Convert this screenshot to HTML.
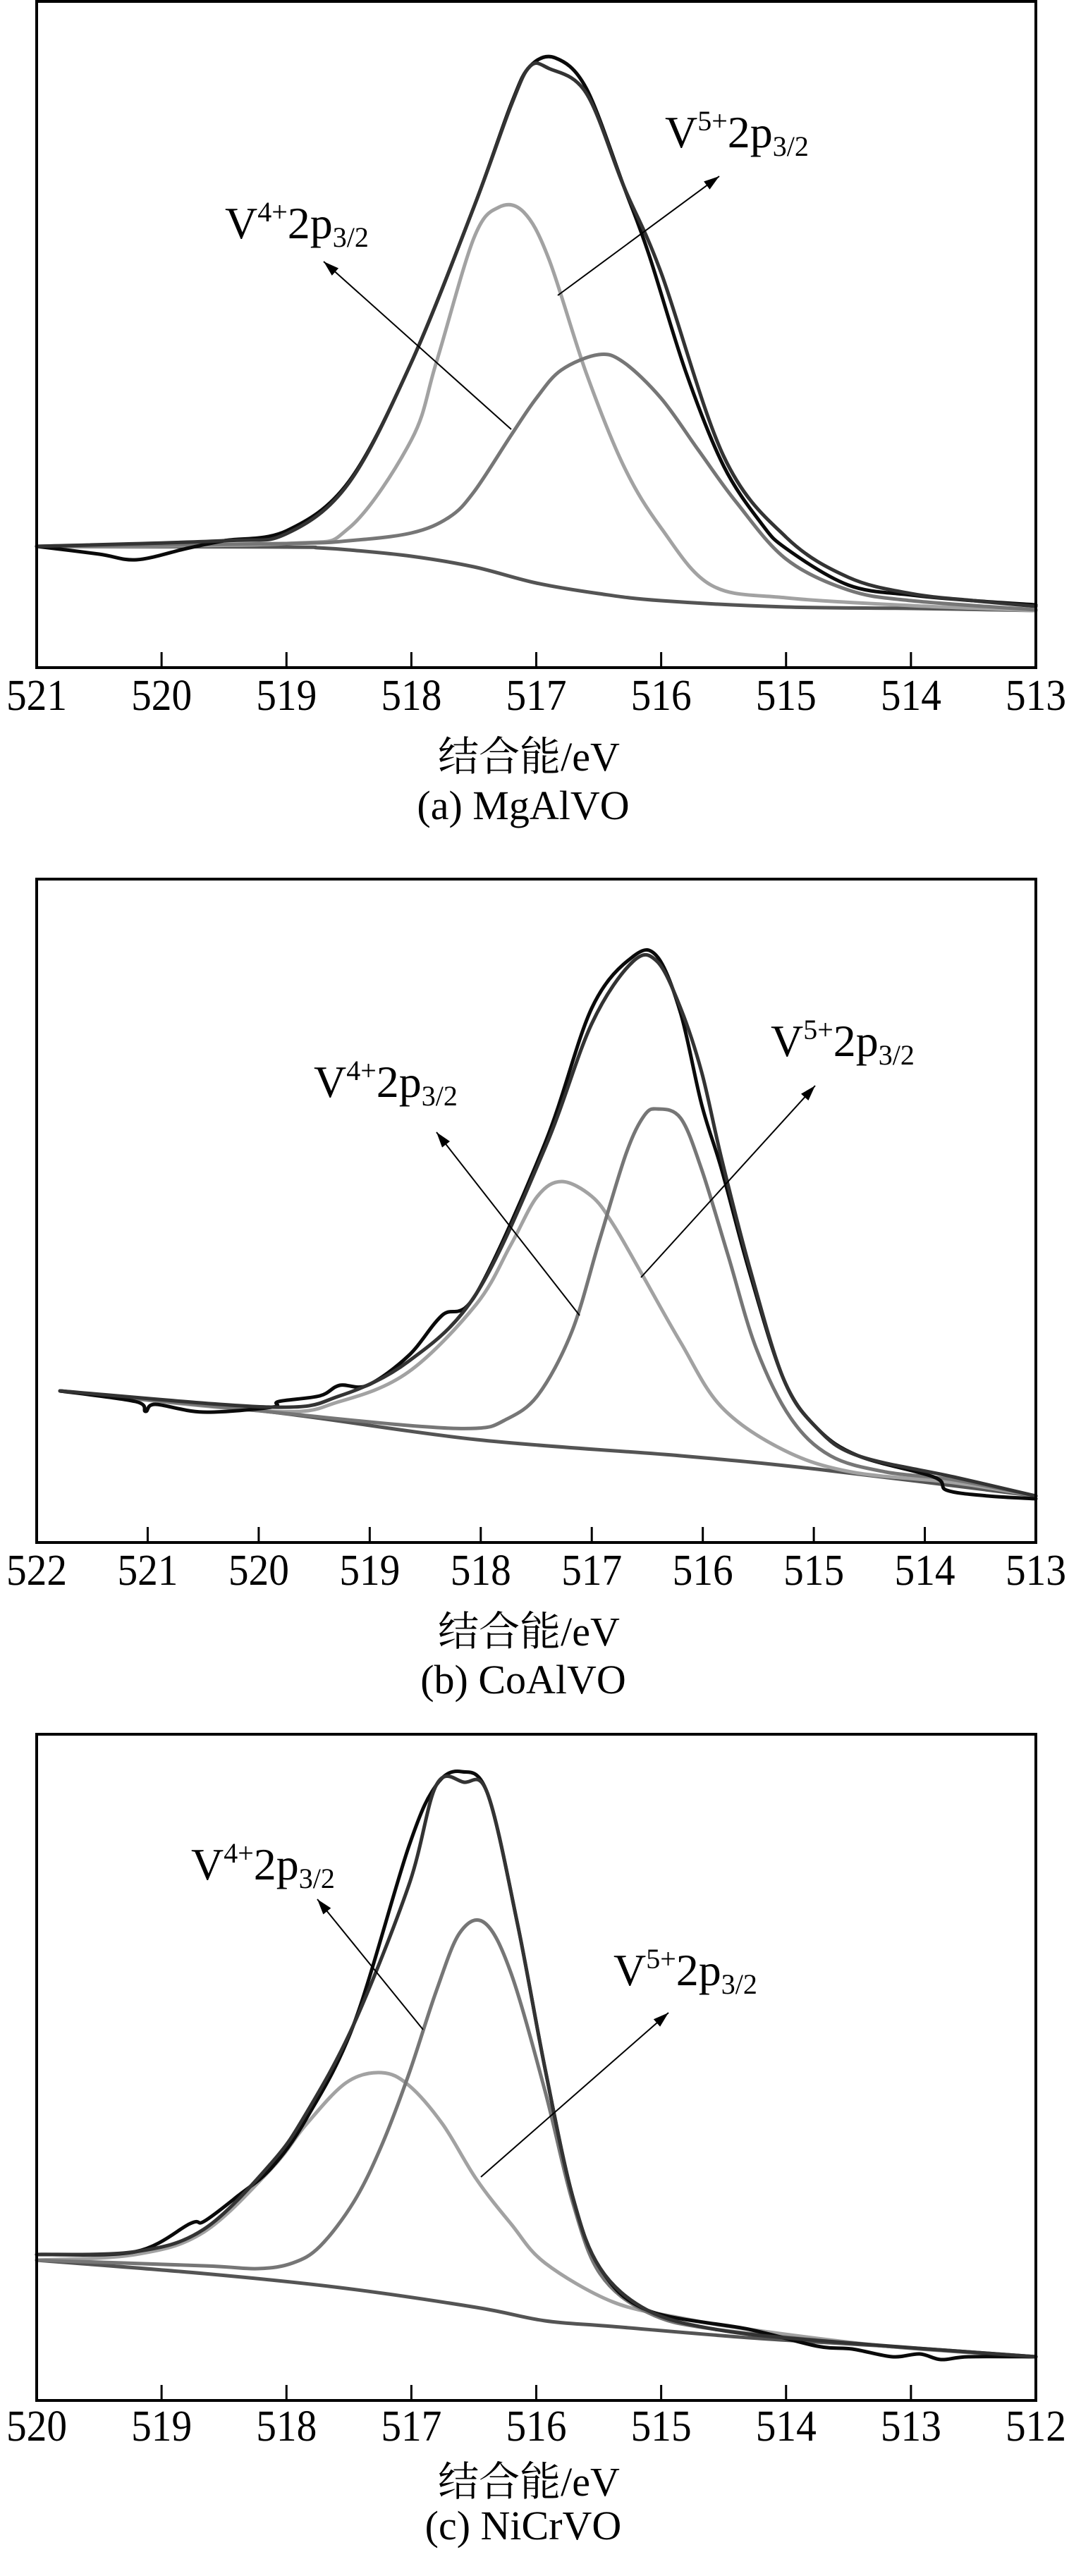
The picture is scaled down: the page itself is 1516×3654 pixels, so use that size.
<!DOCTYPE html>
<html><head><meta charset="utf-8">
<style>
html,body{margin:0;padding:0;background:#fff;}
svg{display:block;}
text{font-family:"Liberation Serif","Noto Serif CJK SC",serif;fill:#000;}
</style></head>
<body>
<svg id="fig" width="1516" height="3654" viewBox="0 0 1516 3654" xmlns="http://www.w3.org/2000/svg"></svg>
<script>
// ---------- Panel (a) MgAlVO ----------
const aTicks = [521,520,519,518,517,516,515,514,513];
const aBaseE = [521,519,518.75,518.5,518,517.5,517,516.5,516,515,514,513];
const aBaseI = [172,171,170,167,158,143,120,105,95,86,84,81];
const aV4E = [521,519,518.5,518,517.8,517.5,517.3,517.1,516.9,516.6,516.3,516,515.6,515,514,513];
const aV4I = [172,176,198,323,433,609,653,646,580,418,286,198,117,99,88,81];
const aV5E = [521,519,518.5,518,517.7,517.5,517.2,517,516.8,516.5,516.3,516,515.7,515.4,515,514.5,514,513];
const aV5I = [172,176,180,191,213,249,330,382,422,444,433,382,308,235,154,110,95,82];
const aFitE = [521,519.5,519,518.5,518,517.5,517.2,517.05,516.9,516.6,516.3,516,515.5,515,514.5,514,513.5,513];
const aFitI = [172,180,190,262,433,653,798,853,850,815,683,560,300,185,128,105,95,87];
const aRawE = [521,520.5,520.2,519.8,519.5,519,518.5,518,517.5,517.2,517.05,516.85,516.6,516.3,516.1,515.8,515.5,515.2,515,514.5,514,513.5,513];
const aRawI = [172,161,153,169,180,194,264,433,653,800,853,865,822,683,587,418,286,205,169,117,103,95,89];

// ---------- Panel (b) CoAlVO ----------
const bTicks = [522,521,520,519,518,517,516,515,514,513];
const bBaseE = [521.79,519.88,518.04,516.2,514.97,513];
const bBaseI = [215,185,146,123,104,66];
const bV4E = [521.79,519.88,519.27,518.65,518.04,517.73,517.49,517.27,517.0,516.81,516.56,516.2,515.83,515.27,514.66,513.74,513];
const bV4I = [215,186,200,242,338,422,491,512,491,452,384,284,192,131,100,85,66];
const bV5E = [521.79,519.88,518.65,518.04,517.79,517.49,517.18,516.93,516.69,516.53,516.41,516.2,516.01,515.77,515.52,515.21,514.85,514.35,513.74,513];
const bV5I = [215,185,166,162,173,208,299,429,552,605,615,602,529,406,276,177,123,100,89,66];
const bFitE = [521.79,519.88,519.27,518.65,518.04,517.42,517.0,516.63,516.41,516.2,516.01,515.83,515.58,515.27,514.97,514.6,513.74,513];
const bFitI = [215,192,208,257,353,560,736,824,824,758,667,544,391,231,162,123,93,66];
const bRawE = [521.79,521.11,521.02,520.93,520.5,519.88,519.82,519.45,519.27,519.02,518.65,518.35,518.04,517.42,517.0,516.63,516.41,516.2,516.01,515.83,515.58,515.27,514.97,514.6,513.92,513.8,513.43,513];
const bRawI = [215,200,186,196,185,192,200,208,223,223,265,322,353,567,758,831,831,751,621,529,384,231,162,123,93,74,66,62];

// ---------- Panel (c) NiCrVO ----------
const cTicks = [520,519,518,517,516,515,514,513,512];
const cBaseE = [520,518.66,517.57,516.48,515.93,515.39,514.3,513.2,512];
const cBaseI = [199,180,160,132,113,105,89,77,62];
const cV4E = [520,519.21,518.66,518.12,517.84,517.52,517.24,517.02,516.75,516.48,516.2,515.93,515.39,514.84,514.3,513.2,512];
const cV4I = [199,207,239,329,392,451,465,447,392,314,250,195,140,117,101,77,62];
const cV5E = [520,518.66,518.23,517.95,517.73,517.46,517.24,517.02,516.8,516.61,516.41,516.2,515.93,515.71,515.49,515.11,514.57,513.2,512];
const cV5I = [199,191,187,195,219,282,361,463,581,664,677,605,439,282,180,125,101,77,62];
const cFitE = [520,519.21,518.66,518.12,517.84,517.46,517.02,516.8,516.58,516.39,516.15,515.93,515.71,515.49,515.11,514.57,513.75,512];
const cFitI = [207,211,243,337,408,534,731,873,877,861,676,471,290,188,128,101,85,62];
const cRawE = [520,519.21,518.77,518.66,518.39,518.12,517.84,517.46,517.02,516.8,516.60,516.39,516.15,515.93,515.71,515.49,515.11,514.3,513.75,513.47,513.15,512.93,512.76,512.54,512];
const cRawI = [207,211,251,254,290,330,400,534,786,873,892,861,676,471,290,188,128,101,77,73,62,66,58,62,62];

const svg = document.getElementById('fig');
const NS = 'http://www.w3.org/2000/svg';
function mk(tag, attrs){ const e=document.createElementNS(NS,tag); for(const k in attrs) e.setAttribute(k,attrs[k]); return e; }

function smoothPath(pts){
  let d = 'M'+pts[0][0].toFixed(1)+','+pts[0][1].toFixed(1);
  for(let i=0;i<pts.length-1;i++){
    const p0=pts[Math.max(0,i-1)], p1=pts[i], p2=pts[i+1], p3=pts[Math.min(pts.length-1,i+2)];
    const c1x=p1[0]+(p2[0]-p0[0])/6, c1y=p1[1]+(p2[1]-p0[1])/6;
    const c2x=p2[0]-(p3[0]-p1[0])/6, c2y=p2[1]-(p3[1]-p1[1])/6;
    d+=' C'+c1x.toFixed(1)+','+c1y.toFixed(1)+' '+c2x.toFixed(1)+','+c2y.toFixed(1)+' '+p2[0].toFixed(1)+','+p2[1].toFixed(1);
  }
  return d;
}

function addLabel(g, x, y, ion){
  const t = mk('text',{x:x,y:y,'font-size':64});
  
  
  t.innerHTML = 'V<tspan font-size="40" dy="-24">'+ion+'</tspan><tspan dy="24">2p</tspan><tspan font-size="40" dy="12">3/2</tspan>';
  g.appendChild(t);
}
function addArrow(g, x1,y1,x2,y2, name){
  const ln = mk('line',{x1:x1,y1:y1,x2:x2,y2:y2,stroke:'#000','stroke-width':2});
  
  
  g.appendChild(ln);
  const ang=Math.atan2(y2-y1,x2-x1), L=22, W=7;
  const bx=x2-L*Math.cos(ang), by=y2-L*Math.sin(ang);
  const px=-Math.sin(ang)*W, py=Math.cos(ang)*W;
  const head = mk('polygon',{points:x2+','+y2+' '+(bx+px)+','+(by+py)+' '+(bx-px)+','+(by-py),fill:'#000'});
  
  
  g.appendChild(head);
}

function panel(cfg){
  const g = mk('g',{});
  
  
  svg.appendChild(g);
  const L=52, R=1469, T=cfg.top, B=cfg.bottom;
  const xs = E => L + (cfg.emax - E)*(R-L)/(cfg.emax-cfg.emin);
  const ys = I => B - I;
  const series = [
    ['baseline', cfg.base[0], cfg.base[1], '#545454'],
    ['v4-component', cfg.v4[0], cfg.v4[1], '#a2a2a2'],
    ['v5-component', cfg.v5[0], cfg.v5[1], '#767676'],
    ['raw-spectrum', cfg.raw[0], cfg.raw[1], '#0a0a0a'],
    ['fit-envelope', cfg.fit[0], cfg.fit[1], '#333333']
  ];
  for(const s of series){
    const pts = s[1].map((e,i)=>[xs(e), ys(s[2][i])]);
    const p = mk('path',{d:smoothPath(pts),fill:'none',stroke:s[3],'stroke-width':5,'stroke-linejoin':'round','stroke-linecap':'round'});
    
    
    g.appendChild(p);
  }
  const frame = mk('rect',{x:L,y:T,width:R-L,height:B-T,fill:'none',stroke:'#000','stroke-width':4});
  
  
  g.appendChild(frame);
  cfg.ticks.forEach((tv,i)=>{
    const x = xs(tv);
    if(i>0 && i<cfg.ticks.length-1){
      const tk = mk('line',{x1:x,y1:B,x2:x,y2:B-22,stroke:'#000','stroke-width':3});
      
      
      g.appendChild(tk);
    }
    const t = mk('text',{x:x,y:B+cfg.tickDy,'font-size':62,'text-anchor':'middle',textLength:86,lengthAdjust:'spacingAndGlyphs'});
    
    
    t.textContent = String(tv);
    g.appendChild(t);
  });
  const xl = mk('text',{x:750,y:B+cfg.xlDy,'font-size':58,'text-anchor':'middle'});
  
  
  xl.textContent = '结合能/eV';
  g.appendChild(xl);
  const cap = mk('text',{x:742,y:B+cfg.capDy,'font-size':58,'text-anchor':'middle'});
  
  
  cap.textContent = cfg.caption;
  g.appendChild(cap);
  addArrow(g, cfg.a4[0],cfg.a4[1],cfg.a4[2],cfg.a4[3],'v4-arrow');
  addArrow(g, cfg.a5[0],cfg.a5[1],cfg.a5[2],cfg.a5[3],'v5-arrow');
  addLabel(g, cfg.l4[0], cfg.l4[1], '4+');
  addLabel(g, cfg.l5[0], cfg.l5[1], '5+');
}

panel({id:'a',top:2,bottom:947,emax:521,emin:513,ticks:aTicks,
  base:[aBaseE,aBaseI],v4:[aV4E,aV4I],v5:[aV5E,aV5I],fit:[aFitE,aFitI],raw:[aRawE,aRawI],
  tickDy:60,xlDy:146,capDy:215,caption:'(a) MgAlVO',
  a4:[725,609,459,371],a5:[791,419,1020,250],l4:[319,338],l5:[943,209]});
panel({id:'b',top:1247,bottom:2188,emax:522,emin:513,ticks:bTicks,
  base:[bBaseE,bBaseI],v4:[bV4E,bV4I],v5:[bV5E,bV5I],fit:[bFitE,bFitI],raw:[bRawE,bRawI],
  tickDy:60,xlDy:146,capDy:214,caption:'(b) CoAlVO',
  a4:[822,1866,619,1606],a5:[909,1812,1156,1540],l4:[445,1556],l5:[1093,1498]});
panel({id:'c',top:2460,bottom:3405,emax:520,emin:512,ticks:cTicks,
  base:[cBaseE,cBaseI],v4:[cV4E,cV4I],v5:[cV5E,cV5I],fit:[cFitE,cFitI],raw:[cRawE,cRawI],
  tickDy:57,xlDy:135,capDy:197,caption:'(c) NiCrVO',
  a4:[600,2879,450,2694],a5:[682,3088,948,2855],l4:[271,2666],l5:[870,2816]});
</script>
</body></html>
